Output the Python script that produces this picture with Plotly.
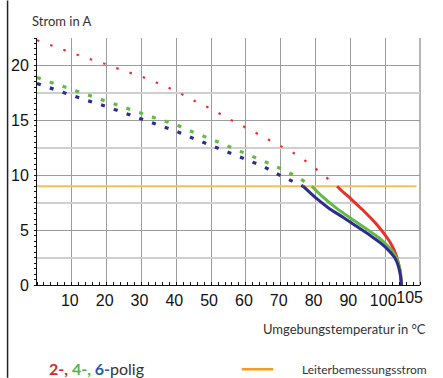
import plotly.graph_objects as go

# ---- data ----
red_dot_x = [0, 5, 10, 15, 20, 25, 30, 35, 40, 45, 50, 55, 60, 65, 70, 75, 80, 85, 86.2]
red_dot_y = [22.3, 21.7, 21.15, 20.6, 20.1, 19.5, 19.0, 18.35, 17.65, 16.8, 16.05, 15.15, 14.35, 13.5, 12.65, 11.8, 10.6, 9.3, 9.0]
green_dot_x = [0, 5, 10, 15, 20, 25, 30, 35, 40, 45, 50, 55, 60, 65, 70, 75, 78.9]
green_dot_y = [18.9, 18.35, 17.8, 17.3, 16.75, 16.2, 15.65, 15.1, 14.6, 13.9, 13.3, 12.65, 11.95, 11.3, 10.6, 9.8, 9.0]
blue_dot_x = [0, 5, 10, 15, 20, 25, 30, 35, 40, 45, 50, 55, 60, 65, 70, 75, 76.4]
blue_dot_y = [18.35, 17.8, 17.3, 16.75, 16.25, 15.7, 15.15, 14.6, 14.0, 13.35, 12.7, 12.05, 11.4, 10.8, 9.95, 9.25, 9.0]

red_sol_x = [86.2, 88, 90, 92, 94, 96, 98, 100, 101, 102, 103, 103.8, 104.4, 104.7]
red_sol_y = [9.0, 8.45, 7.9, 7.3, 6.7, 6.05, 5.35, 4.55, 4.1, 3.55, 2.85, 2.0, 1.1, 0.0]
green_sol_x = [78.9, 82, 86, 90, 94, 98, 100, 102, 103.3, 104.1, 104.5, 104.6]
green_sol_y = [9.0, 8.05, 7.0, 6.1, 5.25, 4.35, 3.8, 3.1, 2.4, 1.6, 0.7, 0.0]
blue_sol_x = [76.4, 80, 84, 88, 92, 96, 99, 101, 102.7, 103.7, 104.3, 104.7]
blue_sol_y = [9.0, 7.95, 6.95, 6.15, 5.3, 4.45, 3.75, 3.15, 2.5, 1.8, 1.0, 0.0]

rated_x = [0, 109]
rated_y = [9, 9]

x_tickvals = [10, 20, 30, 40, 50, 60, 70, 80, 90, 100]
x_end_tick = [105]
y_tickvals = [0, 5, 10, 15, 20]
y_light_grid = [2.5, 7.5, 12.5, 17.5, 22.5]

RED = "#e8312a"
GREEN = "#62bb47"
BLUE = "#2d2e8c"
ORANGE = "#f9be5c"

W, H = 443, 378
L, R, T, B = 36.5, 22.5, 37.5, 93
pw, ph = W - L - R, H - T - B


def px(xp):
    return (xp - L) / pw


def py(yp):
    return (H - B - yp) / ph


fig = go.Figure()

fig.add_trace(go.Scatter(x=rated_x, y=rated_y, mode="lines",
                         line=dict(color=ORANGE, width=2), hoverinfo="skip"))

for xs, ys, col, w, dash in [
    (red_dot_x, red_dot_y, RED, 2.2, "2.5px,11.5px"),
    (green_dot_x, green_dot_y, GREEN, 3.2, "4px,9.5px"),
    (blue_dot_x, blue_dot_y, BLUE, 3.2, "4px,9.5px"),
]:
    fig.add_trace(go.Scatter(x=xs, y=ys, mode="lines",
                             line=dict(color=col, width=w, dash=dash)))

for xs, ys, col in [
    (red_sol_x, red_sol_y, RED),
    (green_sol_x, green_sol_y, GREEN),
    (blue_sol_x, blue_sol_y, BLUE),
]:
    fig.add_trace(go.Scatter(x=xs, y=ys, mode="lines",
                             line=dict(color=col, width=3, shape="spline", smoothing=0.6)))

tickfont = dict(family="Liberation Sans Narrow, Arial Narrow, Liberation Sans", size=16, color="#111")
txtfont = "Lato, Noto Sans, sans-serif"

fig.update_layout(
    width=W, height=H,
    margin=dict(l=L, r=R, t=T, b=B, pad=0, autoexpand=False),
    paper_bgcolor="white", plot_bgcolor="white",
    showlegend=False,
    xaxis=dict(range=[0, 110], tickvals=x_tickvals,
               tickangle=0, automargin=False, ticklabelshift=-2,
               showgrid=False, zeroline=False, showline=True, linecolor="#111",
               linewidth=1, ticks="", tickfont=tickfont, ticklabelstandoff=1,
               minor=dict(dtick=2, ticks="inside", ticklen=3, tickcolor="#111", showgrid=False),
               fixedrange=True),
    xaxis2=dict(range=[0, 110], overlaying="x", anchor="y", dtick=10, tick0=0,
                showgrid=True, gridcolor="#9c9c9c", gridwidth=1, automargin=False,
                showticklabels=False, ticks="", zeroline=False, showline=False),
    xaxis3=dict(range=[0, 110], overlaying="x", anchor="y", side="bottom",
                tickvals=x_end_tick, ticklabelshift=7, tickangle=0,
                showgrid=False, automargin=False, ticks="", tickfont=tickfont,
                ticklabelstandoff=1, zeroline=False, showline=False),
    yaxis=dict(range=[0, 22.5], tickvals=y_tickvals, showgrid=True, automargin=False,
               gridcolor="#9c9c9c", gridwidth=1, zeroline=False, showline=True,
               linecolor="#111", linewidth=1, ticks="", tickfont=tickfont,
               ticklabelstandoff=4,
               minor=dict(dtick=0.5, ticks="outside", ticklen=2, tickcolor="#111", showgrid=False),
               fixedrange=True),
    yaxis2=dict(range=[0, 22.5], overlaying="y", anchor="x", tickvals=y_light_grid,
                showgrid=True, gridcolor="#cfcfcf", gridwidth=2, automargin=False,
                showticklabels=False, ticks="", zeroline=False, showline=False),
)

# invisible traces to activate the overlay axes
fig.add_trace(go.Scatter(x=[None], y=[None], xaxis="x2", yaxis="y2", showlegend=False))
fig.add_trace(go.Scatter(x=[None], y=[None], xaxis="x3", yaxis="y", showlegend=False))

# right frame edge
fig.add_shape(type="line", xref="paper", yref="paper", x0=1, x1=1, y0=0, y1=1,
              line=dict(color="#b5b5b5", width=2), layer="below")

# page border on the left
fig.add_shape(type="line", xref="paper", yref="paper", x0=px(7), x1=px(7),
              y0=py(0), y1=py(H), line=dict(color="#222", width=1.5))

fig.add_annotation(text="Strom in A", xref="paper", yref="paper",
                   x=px(29), y=py(20), xanchor="left", yanchor="middle",
                   showarrow=False, font=dict(family=txtfont, size=13, color="#333"))
fig.add_annotation(text="Umgebungstemperatur in °C", xref="paper", yref="paper",
                   x=px(429), y=py(329), xanchor="right", yanchor="middle",
                   showarrow=False, font=dict(family=txtfont, size=13, color="#333"))
fig.add_annotation(
    text=("<b><span style='color:#d42a24'>2-,</span> "
          "<span style='color:#52b447'>4-,</span> "
          "<span style='color:#1f5cab'>6-</span></b>polig"),
    xref="paper", yref="paper", x=px(47), y=py(369), xanchor="left", yanchor="middle",
    showarrow=False, font=dict(family=txtfont, size=16, color="#333"))

fig.add_shape(type="line", xref="paper", yref="paper", x0=px(241.7), x1=px(273.3),
              y0=py(369.3), y1=py(369.3), line=dict(color="#f59a23", width=2.5))
fig.add_annotation(text="Leiterbemessungsstrom", xref="paper", yref="paper",
                   x=px(430), y=py(370), xanchor="right", yanchor="middle",
                   showarrow=False, font=dict(family=txtfont, size=12, color="#333"))

fig.write_html("out.html", config={"displayModeBar": False},
               post_script="document.body.style.margin='0';document.body.style.overflow='hidden';")
